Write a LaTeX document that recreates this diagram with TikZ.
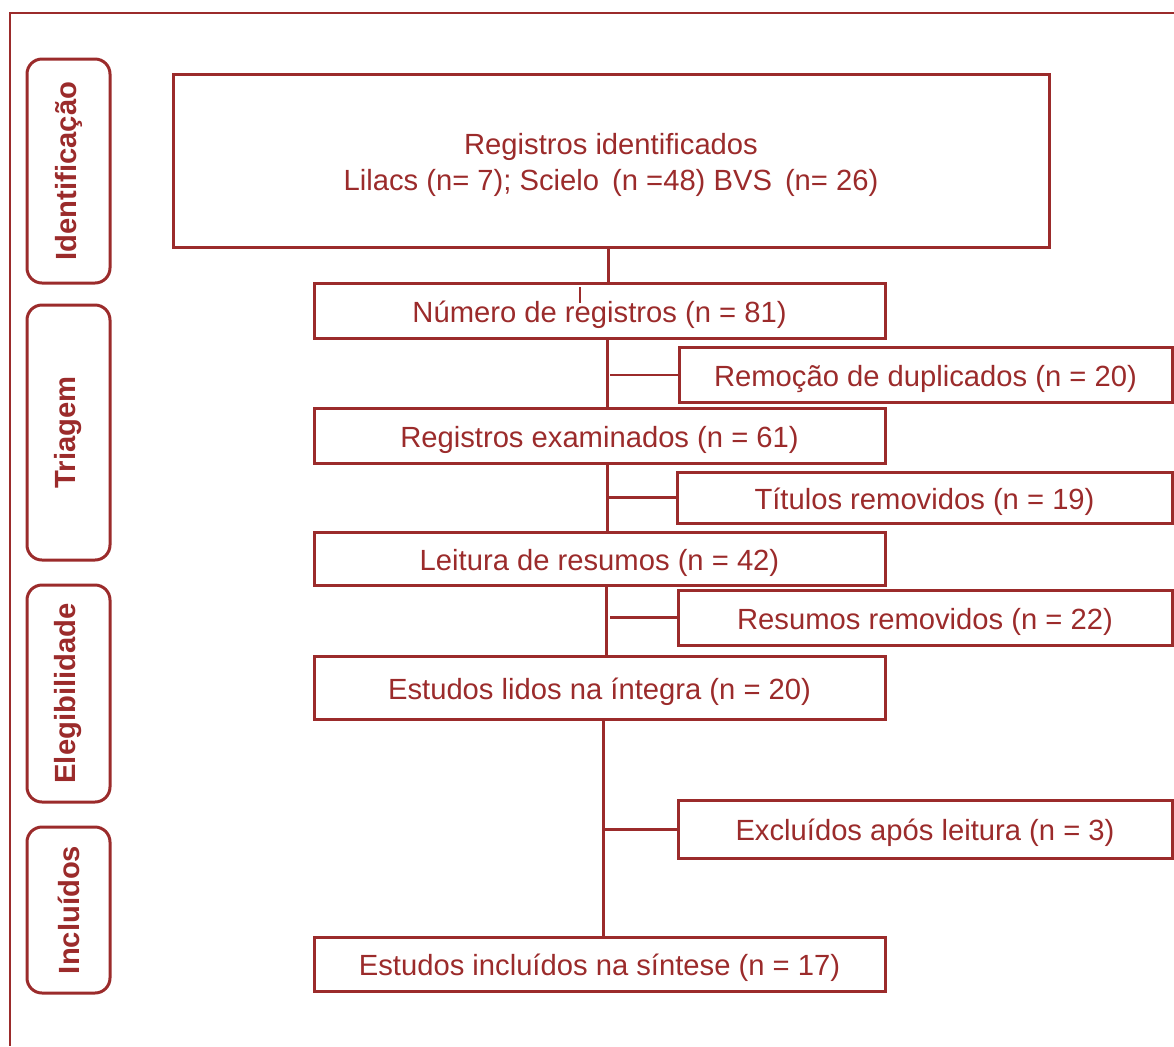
\documentclass[tikz,border=0pt]{standalone}
\usepackage{fontspec}
\setmainfont{Liberation Sans}
\definecolor{wine}{HTML}{9B2B2B}
\begin{document}
\begin{tikzpicture}[x=0.5pt,y=-0.5pt,
  every node/.style={inner sep=0pt, outer sep=0pt},
  flowbase/.style={draw=wine, line width=1.5pt, text=wine, font=\fontsize{14.6}{18}\selectfont, align=center},
  flowbox/.style={flowbase, text height=14pt, text depth=2.5pt},
  phase/.style={draw=wine, line width=1.5pt, rounded corners=7.5pt, rotate=90,
    text=wine, font=\fontsize{14.6}{17}\selectfont\bfseries, minimum height=41.5pt},
  link/.style={draw=wine, line width=1.5pt}]
\useasboundingbox (0,0) rectangle (1174,1046);

% frame around the figure
\draw[wine, line width=1pt] (1174,13) -- (10,13) -- (10,1046);

% phase labels
\node[phase, minimum width=112pt] (p1) at (68.5,171) {Identificação};
\node[phase, minimum width=127.5pt] (p2) at (68.5,432.5) {Triagem};
\node[phase, minimum width=108.5pt] (p3) at (68.5,693.5) {Elegibilidade};
\node[phase, minimum width=83pt] (p4) at (68.5,910) {Incluídos};

% main column
\node[flowbase, minimum width=438pt, minimum height=86.5pt] (top) at (611,160.5)
  {\rule{0pt}{15.5pt}Registros identificados\\Lilacs (n= 7); Scielo\, (n =48) BVS\, (n= 26)};
\node[flowbox, minimum width=285.5pt, minimum height=27.5pt] (num) at (599.5,310.5)
  {Número de registros (n = 81)};
\node[flowbox, minimum width=285.5pt, minimum height=27.5pt] (exam) at (599.5,435.5)
  {Registros examinados (n = 61)};
\node[flowbox, minimum width=285.5pt, minimum height=26.5pt] (leit) at (599.5,558.5)
  {Leitura de resumos (n = 42)};
\node[flowbox, minimum width=285.5pt, minimum height=31.5pt] (lidos) at (599.5,687.5)
  {Estudos lidos na íntegra (n = 20)};
\node[flowbox, minimum width=285.5pt, minimum height=27pt] (incl) at (599.5,964)
  {Estudos incluídos na síntese (n = 17)};

% exclusion column
\node[flowbox, minimum width=246.5pt, minimum height=27.5pt] (remo) at (925.5,375)
  {Remoção de duplicados (n = 20)};
\node[flowbox, minimum width=247.5pt, minimum height=25.5pt] (tit) at (924.5,497.5)
  {Títulos removidos (n = 19)};
\node[flowbox, minimum width=247pt, minimum height=27.5pt] (resrem) at (925,617.5)
  {Resumos removidos (n = 22)};
\node[flowbox, minimum width=247pt, minimum height=29pt] (excl) at (925,829)
  {Excluídos após leitura (n = 3)};

% trunk positions
\coordinate (ta) at (608,0);
\coordinate (tb) at (607,0);
\coordinate (tc) at (606,0);
\coordinate (td) at (603,0);

% vertical trunk
\draw[link] (top.south -| ta) -- (num.north -| ta);
\draw[link] (num.south -| tb) -- (exam.north -| tb);
\draw[link] (exam.south -| tb) -- (leit.north -| tb);
\draw[link] (leit.south -| tc) -- (lidos.north -| tc);
\draw[link] (lidos.south -| td) -- (incl.north -| td);

% side branches
\draw[link, line width=1pt] (remo.west -| 610,0) -- (remo.west);
\draw[link] (tit.west -| tb) -- (tit.west);
\draw[link] (resrem.west -| 610,0) -- (resrem.west);
\draw[link] (excl.west -| td) -- (excl.west);

% short tick inside the records box
\coordinate (tk1) at (580,287);
\coordinate (tk2) at (580,303);
\draw[wine, line width=0.6pt] (tk1) -- (tk2);
\end{tikzpicture}
\end{document}
